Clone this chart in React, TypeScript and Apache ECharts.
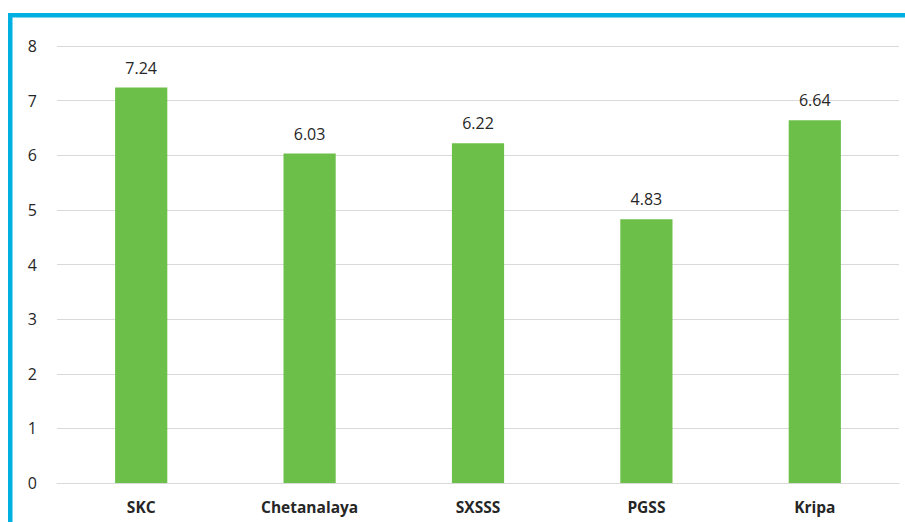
import React, { useEffect, useRef } from "react";
import * as echarts from "echarts";

const categories = ["SKC", "Chetanalaya", "SXSSS", "PGSS", "Kripa"];
const values = [7.24, 6.03, 6.22, 4.83, 6.64];
const yTicks = [0, 1, 2, 3, 4, 5, 6, 7, 8];

export default function App() {
  const ref = useRef<HTMLDivElement>(null);
  useEffect(() => {
    const chart = echarts.init(ref.current!, null, { renderer: "svg" });
    chart.setOption({
      animation: false,
      backgroundColor: "#ffffff",
      textStyle: { fontFamily: "Open Sans" },
      grid: { left: 57, right: 6, top: 46, bottom: 39, containLabel: false },
      graphic: [
        { type: "rect", shape: { x: 8, y: 13, width: 897, height: 4.5 }, style: { fill: "#00B0E0" } },
        { type: "rect", shape: { x: 8, y: 13, width: 4.5, height: 509 }, style: { fill: "#00B0E0" } },
      ],
      xAxis: {
        type: "category",
        data: categories,
        axisLine: { show: true, lineStyle: { color: "#d9d9d9", width: 1 } },
        axisTick: { show: false },
        axisLabel: { color: "#262626", fontSize: 15.5, fontWeight: "bold", margin: 16 },
      },
      yAxis: {
        type: "value",
        min: yTicks[0],
        max: yTicks[yTicks.length - 1],
        interval: 1,
        axisLine: { show: false },
        axisTick: { show: false },
        axisLabel: { color: "#262626", fontSize: 16, margin: 20 },
        splitLine: { lineStyle: { color: "#d9d9d9", width: 1 } },
      },
      series: [
        {
          type: "bar",
          data: values,
          barWidth: "31%",
          itemStyle: { color: "#6CC04A" },
          label: { show: true, position: "top", color: "#262626", fontSize: 16, distance: 12, formatter: (p: any) => p.value.toFixed(2) },
        },
      ],
    });
    return () => chart.dispose();
  }, []);
  return <div ref={ref} style={{ position: "fixed", left: 0, top: 0, width: 905, height: 522 }} />;
}
